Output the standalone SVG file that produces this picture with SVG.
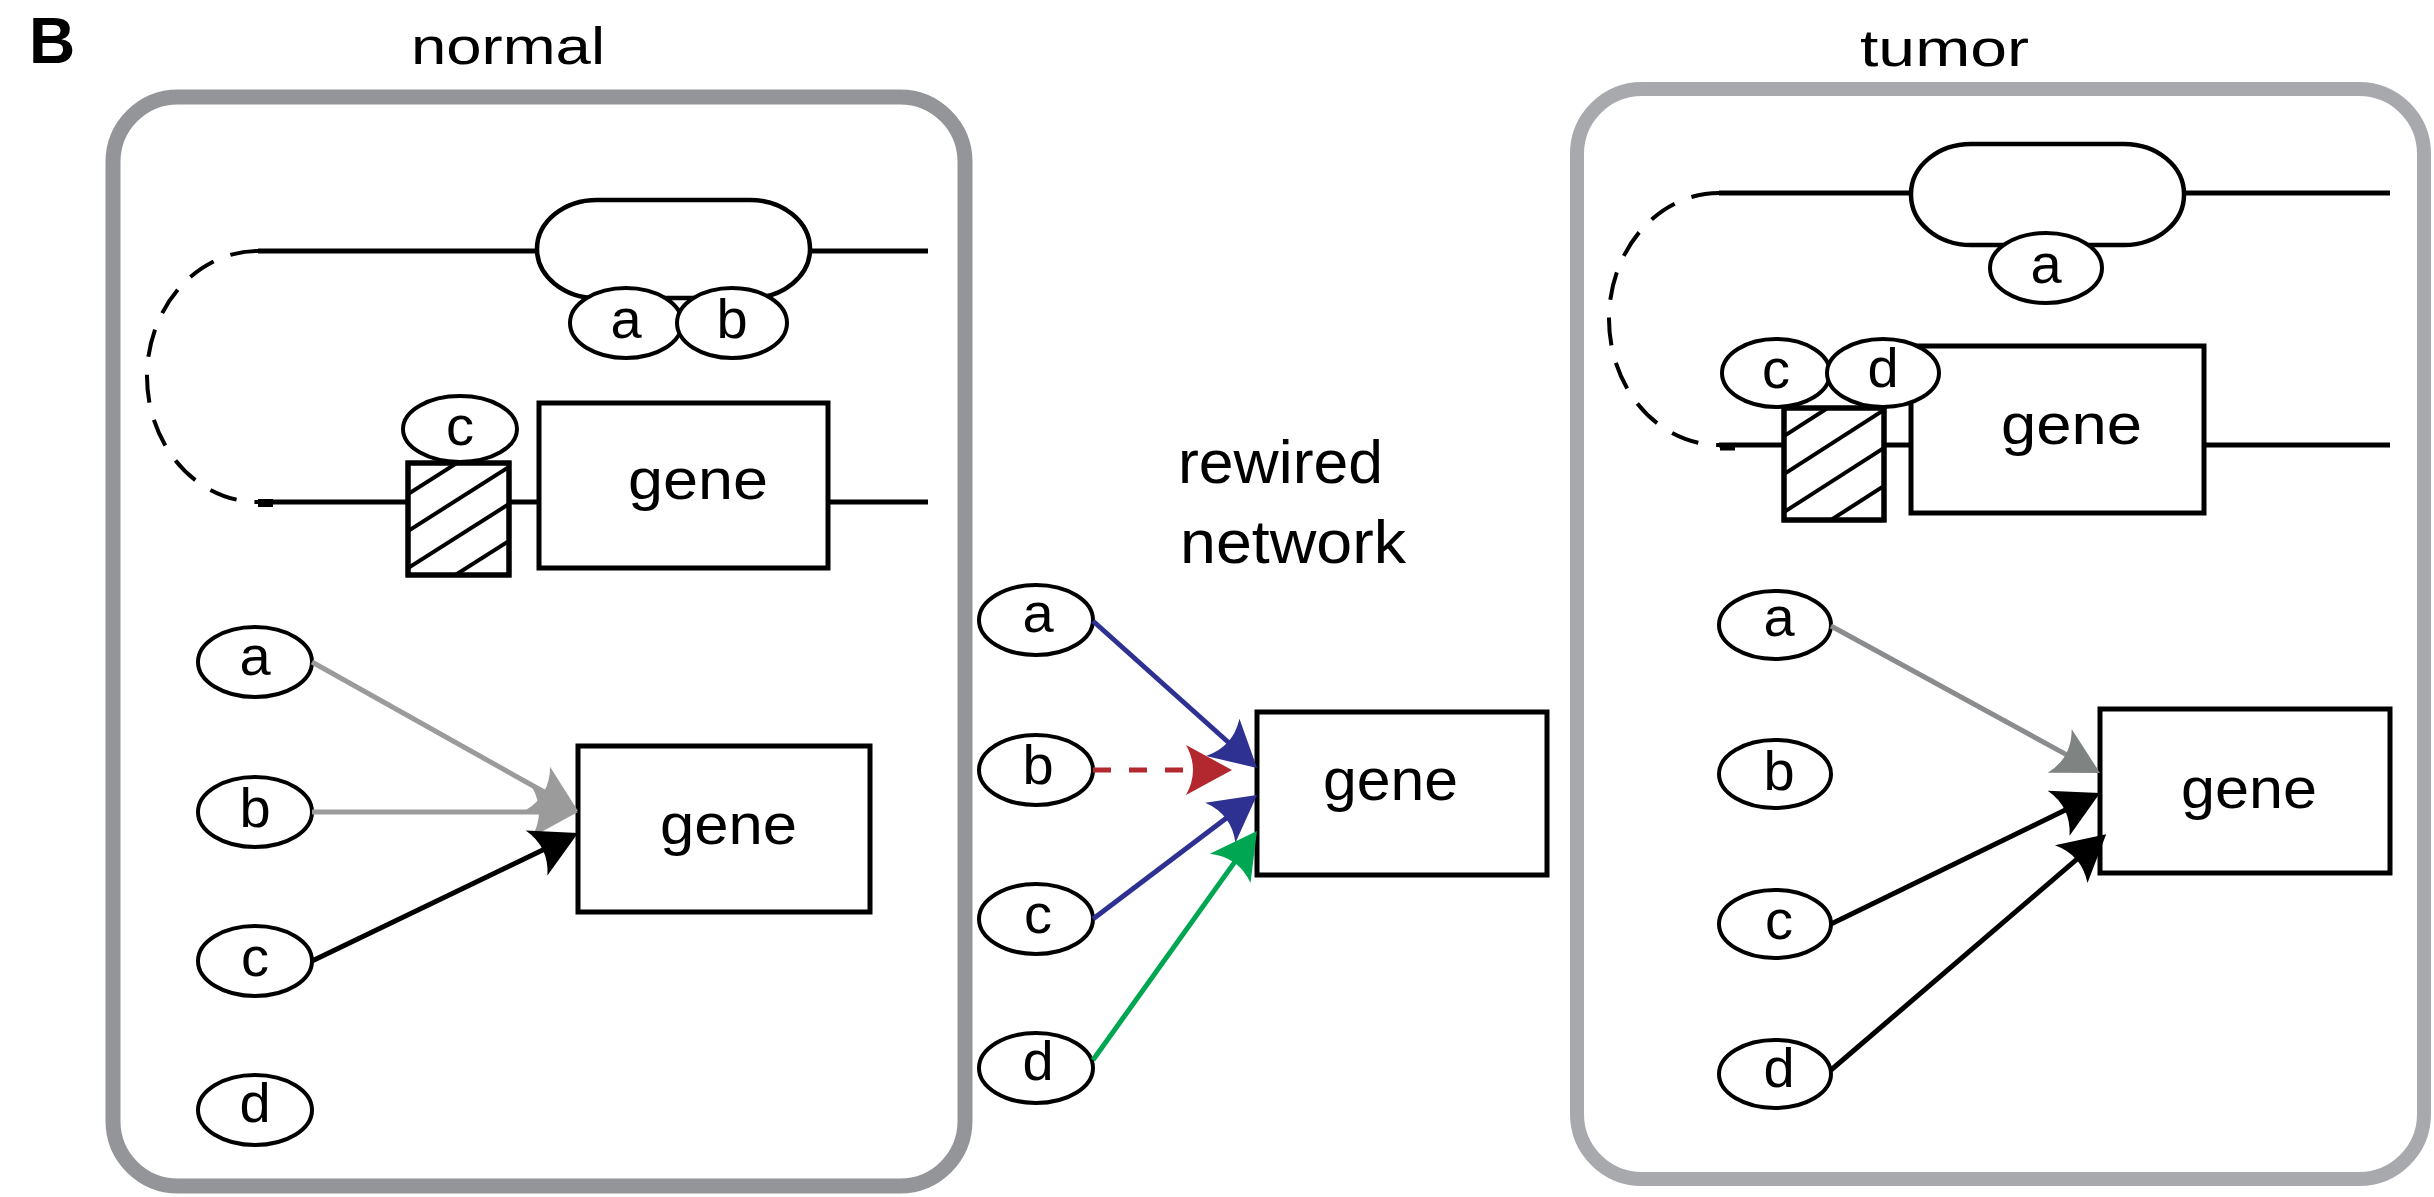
<svg xmlns="http://www.w3.org/2000/svg" width="2434" height="1197" viewBox="0 0 2434 1197">
<style>
text{font-family:"Liberation Sans",Arial,sans-serif;fill:#000}
.panel{fill:none;stroke-width:15}
.dna{stroke:#000;stroke-width:5;fill:none}
.arc{stroke:#000;stroke-width:4;fill:none;stroke-dasharray:28 18}
.box{fill:#fff;stroke:#000;stroke-width:5}
.pill{fill:#fff;stroke:#000;stroke-width:4.5}
.tf{fill:#fff;stroke:#000;stroke-width:4}
.hatch{fill:#fff;stroke:#000;stroke-width:5}
.hl{stroke:#000;stroke-width:4}
.lt{font-size:56px;text-anchor:middle}
.gt{font-size:58px}
.edge{fill:none;stroke-width:5}
</style>
<defs>
<marker id="mGray" markerUnits="userSpaceOnUse" markerWidth="80" markerHeight="80" viewBox="-40 -40 80 80" refX="0" refY="0" orient="auto"><path d="M30,0 L-16,-25 Q-2,0 -16,25 Z" fill="#9b9b9b"/></marker>
<marker id="mGray2" markerUnits="userSpaceOnUse" markerWidth="80" markerHeight="80" viewBox="-40 -40 80 80" refX="0" refY="0" orient="auto"><path d="M30,0 L-16,-25 Q-2,0 -16,25 Z" fill="#7f8482"/></marker>
<marker id="mBlack" markerUnits="userSpaceOnUse" markerWidth="80" markerHeight="80" viewBox="-40 -40 80 80" refX="0" refY="0" orient="auto"><path d="M30,0 L-16,-25 Q-2,0 -16,25 Z" fill="#000"/></marker>
<marker id="mBlue" markerUnits="userSpaceOnUse" markerWidth="80" markerHeight="80" viewBox="-40 -40 80 80" refX="0" refY="0" orient="auto"><path d="M30,0 L-16,-25 Q-2,0 -16,25 Z" fill="#2e3192"/></marker>
<marker id="mRed" markerUnits="userSpaceOnUse" markerWidth="80" markerHeight="80" viewBox="-40 -40 80 80" refX="0" refY="0" orient="auto"><path d="M30,0 L-16,-25 Q-2,0 -16,25 Z" fill="#b2282e"/></marker>
<marker id="mGreen" markerUnits="userSpaceOnUse" markerWidth="80" markerHeight="80" viewBox="-40 -40 80 80" refX="0" refY="0" orient="auto"><path d="M30,0 L-16,-25 Q-2,0 -16,25 Z" fill="#00a651"/></marker>
<clipPath id="clipN"><rect x="408" y="463" width="101" height="112"/></clipPath>
<clipPath id="clipT"><rect x="1784" y="408" width="100" height="112"/></clipPath>
</defs>

<text x="29" y="63" style="font-size:64px;font-weight:bold">B</text>
<text x="411" y="64" style="font-size:52px" textLength="194" lengthAdjust="spacingAndGlyphs">normal</text>
<text x="1860" y="66" style="font-size:52px" textLength="169" lengthAdjust="spacingAndGlyphs">tumor</text>
<text x="1178" y="483" style="font-size:62px" textLength="205" lengthAdjust="spacingAndGlyphs">rewired</text>
<text x="1180" y="563" style="font-size:62px" textLength="226" lengthAdjust="spacingAndGlyphs">network</text>

<!-- panels -->
<g id="panel-normal"><rect class="panel" x="113" y="97" width="852" height="1089" rx="65" stroke="#939598"/></g>
<g id="panel-tumor"><rect class="panel" x="1577" y="89" width="847" height="1090" rx="65" stroke="#a7a9ac" style="stroke-width:14"/></g>

<!-- normal chromatin -->
<g id="normal-dna">
<path class="arc" d="M258,251 A111,125.5 0 0 0 258,502"/>
<line class="dna" x1="258" y1="251" x2="537" y2="251"/>
<line class="dna" x1="810" y1="251" x2="928" y2="251"/>
<line class="dna" x1="258" y1="502" x2="408" y2="502"/>
<line class="dna" x1="509" y1="502" x2="539" y2="502"/>
<line class="dna" x1="828" y1="502" x2="928" y2="502"/>
<line x1="258" y1="503" x2="273" y2="503" stroke="#000" stroke-width="8"/>
</g>
<g id="normal-enhancer"><rect class="pill" x="537" y="200" width="273" height="98" rx="60" ry="49"/></g>
<g id="normal-tf-a"><ellipse class="tf" cx="626" cy="323" rx="56" ry="35"/><text class="lt" x="626" y="338">a</text></g>
<g id="normal-tf-b"><ellipse class="tf" cx="732" cy="323" rx="55" ry="35"/><text class="lt" x="732" y="338">b</text></g>
<g id="normal-promoter">
<rect class="hatch" x="408" y="463" width="101" height="112"/>
<g clip-path="url(#clipN)">
<line class="hl" x1="408" y1="494" x2="509" y2="430"/>
<line class="hl" x1="408" y1="531" x2="509" y2="467"/>
<line class="hl" x1="408" y1="568" x2="509" y2="504"/>
<line class="hl" x1="408" y1="605" x2="509" y2="541"/>
</g>
<rect x="408" y="463" width="101" height="112" fill="none" stroke="#000" stroke-width="5"/>
</g>
<g id="normal-tf-c"><ellipse class="tf" cx="460" cy="429" rx="57" ry="33"/><text class="lt" x="460" y="445">c</text></g>
<g id="normal-gene-top"><rect class="box" x="539" y="403" width="289" height="165"/><text class="gt" x="628" y="499" textLength="140" lengthAdjust="spacingAndGlyphs">gene</text></g>

<!-- normal network nodes -->
<g id="normal-a"><ellipse class="tf" cx="255" cy="662" rx="57" ry="35"/><text class="lt" x="255" y="675">a</text></g>
<g id="normal-b"><ellipse class="tf" cx="255" cy="812" rx="57" ry="35"/><text class="lt" x="255" y="827">b</text></g>
<g id="normal-c"><ellipse class="tf" cx="255" cy="961" rx="57" ry="35"/><text class="lt" x="255" y="976">c</text></g>
<g id="normal-d"><ellipse class="tf" cx="255" cy="1110" rx="57" ry="35"/><text class="lt" x="255" y="1122">d</text></g>
<g id="normal-gene"><rect class="box" x="578" y="746" width="292" height="166"/><text class="gt" x="660" y="844" textLength="137" lengthAdjust="spacingAndGlyphs">gene</text></g>

<!-- middle network nodes -->
<g id="mid-a"><ellipse class="tf" cx="1036" cy="620" rx="57" ry="35"/><text class="lt" x="1038" y="632">a</text></g>
<g id="mid-b"><ellipse class="tf" cx="1036" cy="770" rx="57" ry="35"/><text class="lt" x="1038" y="784">b</text></g>
<g id="mid-c"><ellipse class="tf" cx="1036" cy="919" rx="57" ry="35"/><text class="lt" x="1038" y="933">c</text></g>
<g id="mid-d"><ellipse class="tf" cx="1036" cy="1068" rx="57" ry="35"/><text class="lt" x="1038" y="1080">d</text></g>
<g id="mid-gene"><rect class="box" x="1257" y="712" width="290" height="163"/><text x="1323" y="800" style="font-size:60px" textLength="135" lengthAdjust="spacingAndGlyphs">gene</text></g>

<!-- tumor chromatin -->
<g id="tumor-dna">
<path class="arc" d="M1719,193 A110,126 0 0 0 1719,445"/>
<line class="dna" x1="1719" y1="193" x2="1911" y2="193"/>
<line class="dna" x1="2184" y1="193" x2="2390" y2="193"/>
<line class="dna" x1="1719" y1="445" x2="1784" y2="445"/>
<line class="dna" x1="1884" y1="445" x2="1911" y2="445"/>
<line class="dna" x1="2204" y1="445" x2="2390" y2="445"/>
<line x1="1720" y1="447" x2="1735" y2="447" stroke="#000" stroke-width="7"/>
</g>
<g id="tumor-enhancer"><rect class="pill" x="1911" y="144" width="273" height="101" rx="60" ry="50"/></g>
<g id="tumor-tf-a"><ellipse class="tf" cx="2046" cy="268" rx="56" ry="35"/><text class="lt" x="2046" y="283">a</text></g>
<g id="tumor-gene-top"><rect class="box" x="1911" y="346" width="293" height="167"/><text class="gt" x="2001" y="444" textLength="141" lengthAdjust="spacingAndGlyphs">gene</text></g>
<g id="tumor-promoter">
<rect class="hatch" x="1784" y="408" width="100" height="112"/>
<g clip-path="url(#clipT)">
<line class="hl" x1="1784" y1="436" x2="1884" y2="372"/>
<line class="hl" x1="1784" y1="474" x2="1884" y2="410"/>
<line class="hl" x1="1784" y1="512" x2="1884" y2="448"/>
<line class="hl" x1="1784" y1="550" x2="1884" y2="486"/>
</g>
<rect x="1784" y="408" width="100" height="112" fill="none" stroke="#000" stroke-width="5"/>
</g>
<g id="tumor-tf-c"><ellipse class="tf" cx="1776" cy="373" rx="54" ry="34"/><text class="lt" x="1776" y="388">c</text></g>
<g id="tumor-tf-d"><ellipse class="tf" cx="1883" cy="373" rx="56" ry="34"/><text class="lt" x="1883" y="387">d</text></g>

<!-- tumor network nodes -->
<g id="tumor-a"><ellipse class="tf" cx="1775" cy="625" rx="56" ry="34"/><text class="lt" x="1779" y="636">a</text></g>
<g id="tumor-b"><ellipse class="tf" cx="1775" cy="774" rx="56" ry="34"/><text class="lt" x="1779" y="790">b</text></g>
<g id="tumor-c"><ellipse class="tf" cx="1775" cy="924" rx="56" ry="34"/><text class="lt" x="1779" y="939">c</text></g>
<g id="tumor-d"><ellipse class="tf" cx="1775" cy="1074" rx="56" ry="34"/><text class="lt" x="1779" y="1087">d</text></g>
<g id="tumor-gene"><rect class="box" x="2100" y="709" width="290" height="164"/><text class="gt" x="2181" y="808" textLength="136" lengthAdjust="spacingAndGlyphs">gene</text></g>

<!-- connectors -->
<g id="connectors">
<line class="edge" x1="312" y1="662" x2="551.8" y2="796.3" stroke="#9b9b9b" marker-end="url(#mGray)"/>
<line class="edge" x1="312" y1="812" x2="548" y2="812" stroke="#9b9b9b" marker-end="url(#mGray)"/>
<line class="edge" x1="312" y1="961" x2="551" y2="846" stroke="#000" marker-end="url(#mBlack)"/>

<line class="edge" x1="1093" y1="621" x2="1234.7" y2="748" stroke="#2e3192" marker-end="url(#mBlue)"/>
<line class="edge" x1="1093" y1="770" x2="1202" y2="770" stroke="#b2282e" stroke-dasharray="18 18" marker-end="url(#mRed)"/>
<line class="edge" x1="1093" y1="919" x2="1233.1" y2="813.1" stroke="#2e3192" marker-end="url(#mBlue)"/>
<line class="edge" x1="1093" y1="1060" x2="1239.5" y2="855.4" stroke="#00a651" marker-end="url(#mGreen)"/>

<line class="edge" x1="1831" y1="626" x2="2073.7" y2="758.6" stroke="#8a8c8e" marker-end="url(#mGray2)"/>
<line class="edge" x1="1831" y1="924" x2="2073" y2="806.2" stroke="#000" marker-end="url(#mBlack)"/>
<line class="edge" x1="1831" y1="1070" x2="2083.4" y2="853.7" stroke="#000" marker-end="url(#mBlack)"/>
</g>
</svg>
